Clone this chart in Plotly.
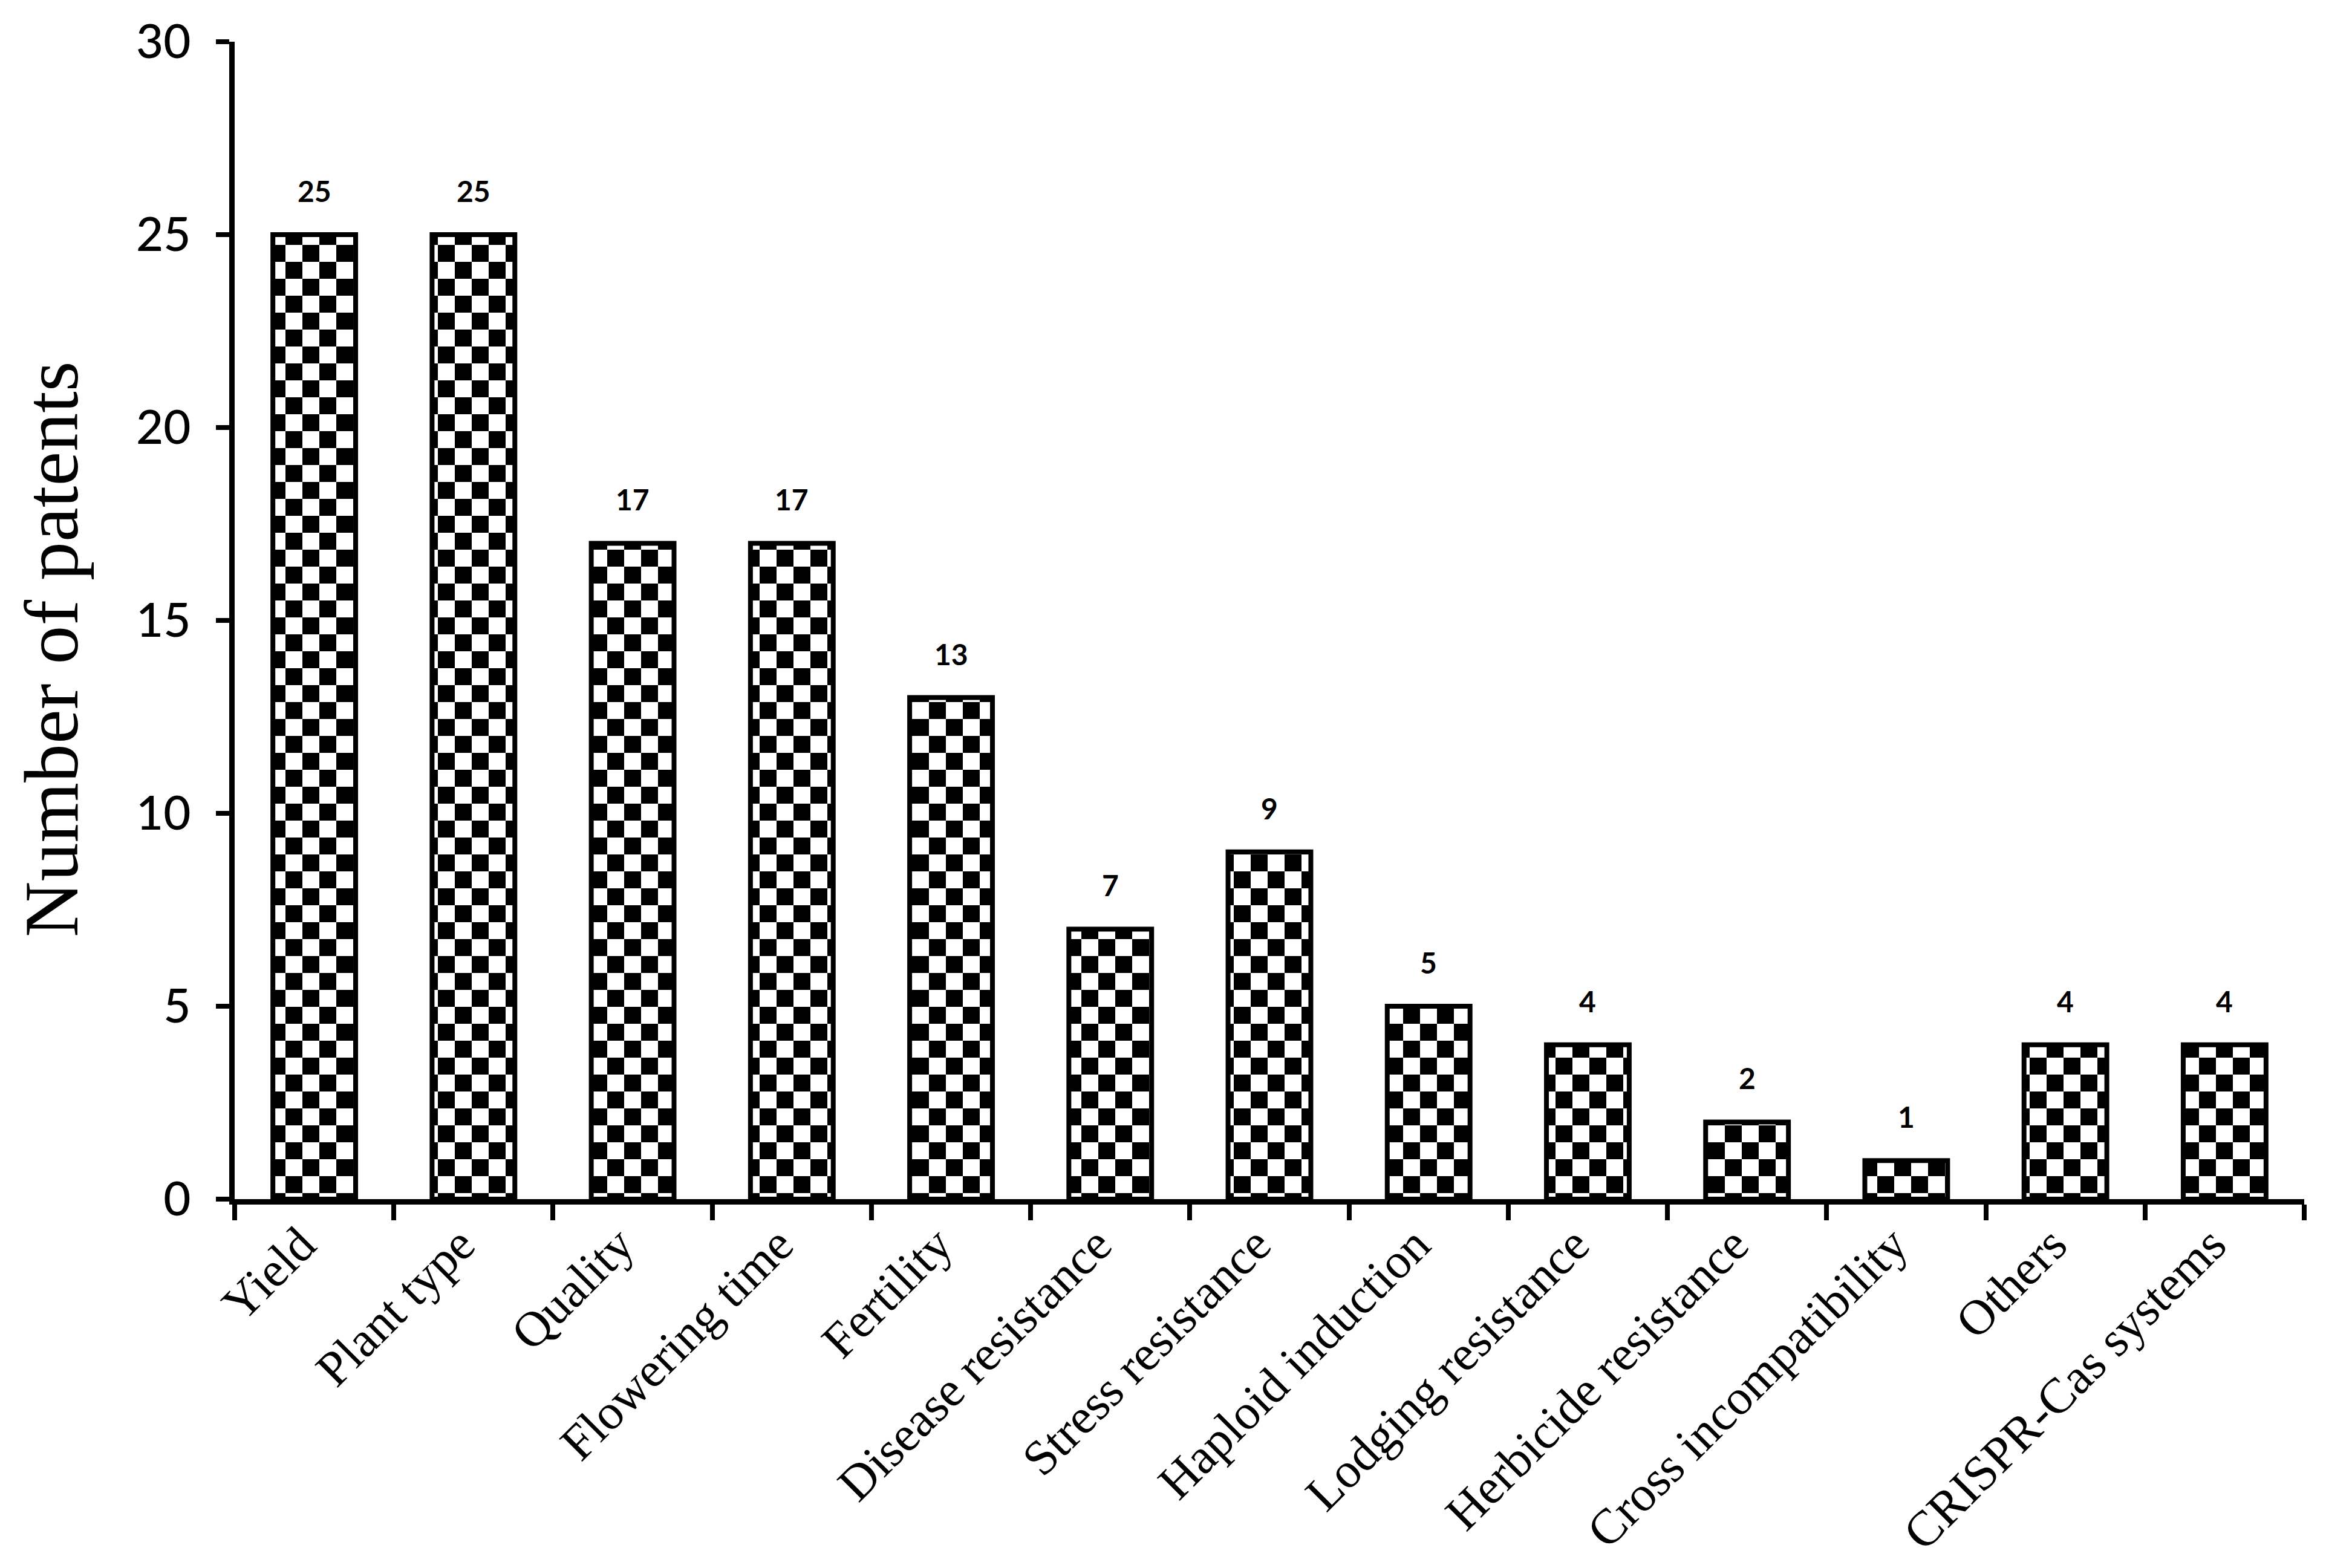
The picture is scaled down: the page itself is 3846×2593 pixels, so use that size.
import plotly.graph_objects as go

categories = ["Yield", "Plant type", "Quality", "Flowering time", "Fertility",
              "Disease resistance", "Stress resistance", "Haploid induction",
              "Lodging resistance", "Herbicide resistance", "Cross incompatibility",
              "Others", "CRISPR-Cas systems"]
patents = [25, 25, 17, 17, 13, 7, 9, 5, 4, 2, 1, 4, 4]
y_ticks = [0, 5, 10, 15, 20, 25, 30]

tile = 56
half = tile / 2
checker_path = f"M0,0H{half}V{half}H0Z M{half},{half}H{tile}V{tile}H{half}Z"
try:
    pattern = go.bar.marker.Pattern(path=checker_path, size=tile, fgcolor="black",
                                    bgcolor="white", fillmode="replace", solidity=1)
except Exception:
    pattern = dict(shape=".", size=tile / 2, solidity=0.5, fgcolor="black",
                   bgcolor="white", fillmode="replace")

fig = go.Figure()
fig.add_trace(go.Bar(
    x=categories, y=patents, width=0.52,
    marker=dict(color="white", pattern=pattern,
                line=dict(color="black", width=8)),
    showlegend=False,
))

for c, v in zip(categories, patents):
    fig.add_annotation(x=c, y=v, text=str(v), showarrow=False,
                       yanchor="bottom", yshift=42,
                       font=dict(family="Lato", size=48, color="black", weight="bold"))

fig.add_annotation(xref="paper", yref="paper", x=-0.0885, y=0.475,
                   text="Number of patents", textangle=-90, showarrow=False,
                   xanchor="center", yanchor="middle",
                   font=dict(family="Liberation Serif", size=128, color="black"))

fig.update_layout(
    width=3846, height=2593,
    margin=dict(l=380, r=44, t=61, b=618, autoexpand=False),
    plot_bgcolor="white", paper_bgcolor="white",
    bargap=0.48,
)
fig.update_xaxes(
    type="category", tickson="boundaries", ticks="outside", ticklen=26, tickwidth=8,
    tickcolor="black", showline=True, linecolor="black", linewidth=9,
    tickangle=-45, ticklabelstandoff=-15, ticklabelshift=-22,
    tickfont=dict(family="Liberation Serif", size=82, color="black"),
    showgrid=False, zeroline=False,
)
fig.update_yaxes(
    range=[0, 30], tickvals=y_ticks, ticks="outside", ticklen=22, tickwidth=8,
    tickcolor="black", showline=True, linecolor="black", linewidth=9,
    ticklabelstandoff=26,
    tickfont=dict(family="Lato", size=78, color="black", weight=500),
    showgrid=False, zeroline=False,
)
fig.write_html("out.html")
